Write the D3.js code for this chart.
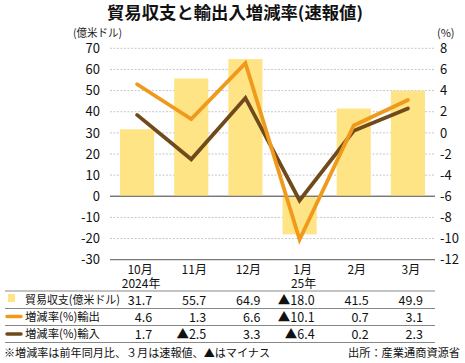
<!DOCTYPE html>
<html><head><meta charset="utf-8">
<script src="https://cdn.jsdelivr.net/npm/d3@7"></script>
<style>
body{margin:0;background:#fff;}
text{font-family:"Noto Sans CJK JP","Noto Sans",sans-serif;}
.num{font-family:"Liberation Sans Narrow","Noto Sans CJK JP",sans-serif;}
</style></head>
<body><svg id="c" width="465" height="363"></svg>
<script>
const months = ["10月","11月","12月","1月","2月","3月"];
const years = ["2024年","","","25年","",""];
const balance = [31.7, 55.7, 64.9, -18.0, 41.5, 49.9];
const exportsRate = [4.6, 1.3, 6.6, -10.1, 0.7, 3.1];
const importsRate = [1.7, -2.5, 3.3, -6.4, 0.2, 2.3];
const leftTicks = [70,60,50,40,30,20,10,0,-10,-20,-30];
const rightTicks = [8,6,4,2,0,-2,-4,-6,-8,-10,-12];
const seriesNames = ["貿易収支(億米ドル)","増減率(%)輸出","増減率(%)輸入"];

const svg = d3.select("#c");
const plotL = 110, plotR = 435, plotT = 48.3, plotB = 259.7;
const x = d3.scaleBand().domain(months).range([plotL, plotR]).paddingInner(0.37).paddingOuter(0.185);
const yL = d3.scaleLinear().domain([-30,70]).range([plotB, plotT]);
const yR = d3.scaleLinear().domain([-12,8]).range([plotB, plotT]);
const cx = m => x(m) + x.bandwidth()/2;

// title
svg.append("text").attr("x", 107).attr("y", 19)
  .attr("font-size", 16.5).attr("font-weight", "bold").attr("fill","#111")
  .attr("textLength", 256).attr("lengthAdjust","spacingAndGlyphs")
  .text("貿易収支と輸出入増減率(速報値)");
svg.append("text").attr("x", 73).attr("y", 37).attr("font-size", 11).attr("fill","#222")
  .attr("textLength", 49).attr("lengthAdjust","spacingAndGlyphs").text("(億米ドル)");
svg.append("text").attr("x", 437).attr("y", 37).attr("font-size", 11).attr("fill","#222").text("(%)");

// gridlines
svg.append("g").selectAll("line").data(leftTicks).join("line")
  .attr("x1", plotL).attr("x2", plotR)
  .attr("y1", d => yL(d)).attr("y2", d => yL(d))
  .attr("stroke", d => (d===0||d===-30) ? "#777" : "#c8c8c8")
  .attr("stroke-width", d => (d===0||d===-30) ? 1.2 : 1)
  .attr("stroke-dasharray", d => (d===0||d===-30) ? null : "2,1.5");

// left axis labels
svg.append("g").selectAll("text").data(leftTicks).join("text").attr("class","num")
  .attr("x", 100).attr("y", d => yL(d)).attr("dy","0.36em").attr("text-anchor","end")
  .attr("font-size", 13).attr("fill","#111").text(d => d);
// right axis labels
svg.append("g").selectAll("text").data(rightTicks).join("text").attr("class","num")
  .attr("x", 440).attr("y", d => yR(d)).attr("dy","0.36em").attr("text-anchor","start")
  .attr("font-size", 13).attr("fill","#111").text(d => d);

// bars
svg.append("g").selectAll("rect").data(balance).join("rect")
  .attr("x", (d,i) => x(months[i])).attr("width", x.bandwidth())
  .attr("y", d => yL(Math.max(0,d))).attr("height", d => Math.abs(yL(d)-yL(0)))
  .attr("fill", "#FFE486");
svg.append("line").attr("x1", plotL).attr("x2", plotR).attr("y1", yL(0)).attr("y2", yL(0))
  .attr("stroke","#777").attr("stroke-width",1.2);

const line = d3.line().x((d,i) => cx(months[i])).y(d => yR(d));
svg.append("path").datum(importsRate).attr("d", line).attr("fill","none")
  .attr("stroke","#704A1A").attr("stroke-width",3.8).attr("stroke-linejoin","miter").attr("stroke-linecap","round");
svg.append("path").datum(exportsRate).attr("d", line).attr("fill","none")
  .attr("stroke","#F09A1C").attr("stroke-width",3.8).attr("stroke-linejoin","miter").attr("stroke-linecap","round");

// month labels
svg.append("g").selectAll("text").data(months).join("text").attr("class","num")
  .attr("x", d => cx(d)+3).attr("y", 270).attr("dy","0.36em").attr("text-anchor","middle")
  .attr("font-size", 12).attr("fill","#111").text(d => d);
svg.append("g").selectAll("text").data(years).join("text").attr("class","num")
  .attr("x", (d,i) => cx(months[i])+4).attr("y", 283.5).attr("dy","0.36em").attr("text-anchor","middle")
  .attr("font-size", 12).attr("fill","#111").text(d => d);

// table lines
[291, 308.5, 325.5, 342.5].forEach(yy => {
  svg.append("line").attr("x1", 5).attr("x2", 435).attr("y1", yy).attr("y2", yy)
    .attr("stroke","#888").attr("stroke-width",1);
});

const rowsY = [300, 317, 334];
const fmt = v => v < 0 ? "▲" + Math.abs(v).toFixed(1) : v.toFixed(1);
svg.append("rect").attr("x", 8).attr("y", 294).attr("width", 7).attr("height", 8).attr("fill","#FFE486");
svg.append("line").attr("x1", 7).attr("x2", 21).attr("y1", 316.5).attr("y2", 316.5)
  .attr("stroke","#F09A1C").attr("stroke-width",3.5).attr("stroke-linecap","round");
svg.append("line").attr("x1", 7).attr("x2", 21).attr("y1", 334).attr("y2", 334)
  .attr("stroke","#704A1A").attr("stroke-width",3.5).attr("stroke-linecap","round");

const rows = [balance, exportsRate, importsRate];
const nameLens = [95, 75, 75];
rows.forEach((arr, r) => {
  svg.append("text").attr("x", 25).attr("y", rowsY[r]).attr("dy","0.36em")
    .attr("font-size", 11.5).attr("fill","#111")
    .attr("textLength", nameLens[r]).attr("lengthAdjust","spacingAndGlyphs").text(seriesNames[r]);
  svg.append("g").selectAll("text").data(arr).join("text").attr("class","num")
    .attr("x", (d,i) => cx(months[i]) + 15).attr("y", rowsY[r]).attr("dy","0.36em")
    .attr("text-anchor","end").attr("font-size", 12.5).attr("fill","#111").text(d => fmt(d));
});

svg.append("text").attr("x", 4).attr("y", 357).attr("font-size", 11).attr("fill","#111")
  .attr("textLength", 266).attr("lengthAdjust","spacingAndGlyphs")
  .text("※増減率は前年同月比、３月は速報値、▲はマイナス");
svg.append("text").attr("x", 348).attr("y", 357).attr("font-size", 11).attr("fill","#111")
  .attr("textLength", 112).attr("lengthAdjust","spacingAndGlyphs")
  .text("出所：産業通商資源省");
</script></body></html>
